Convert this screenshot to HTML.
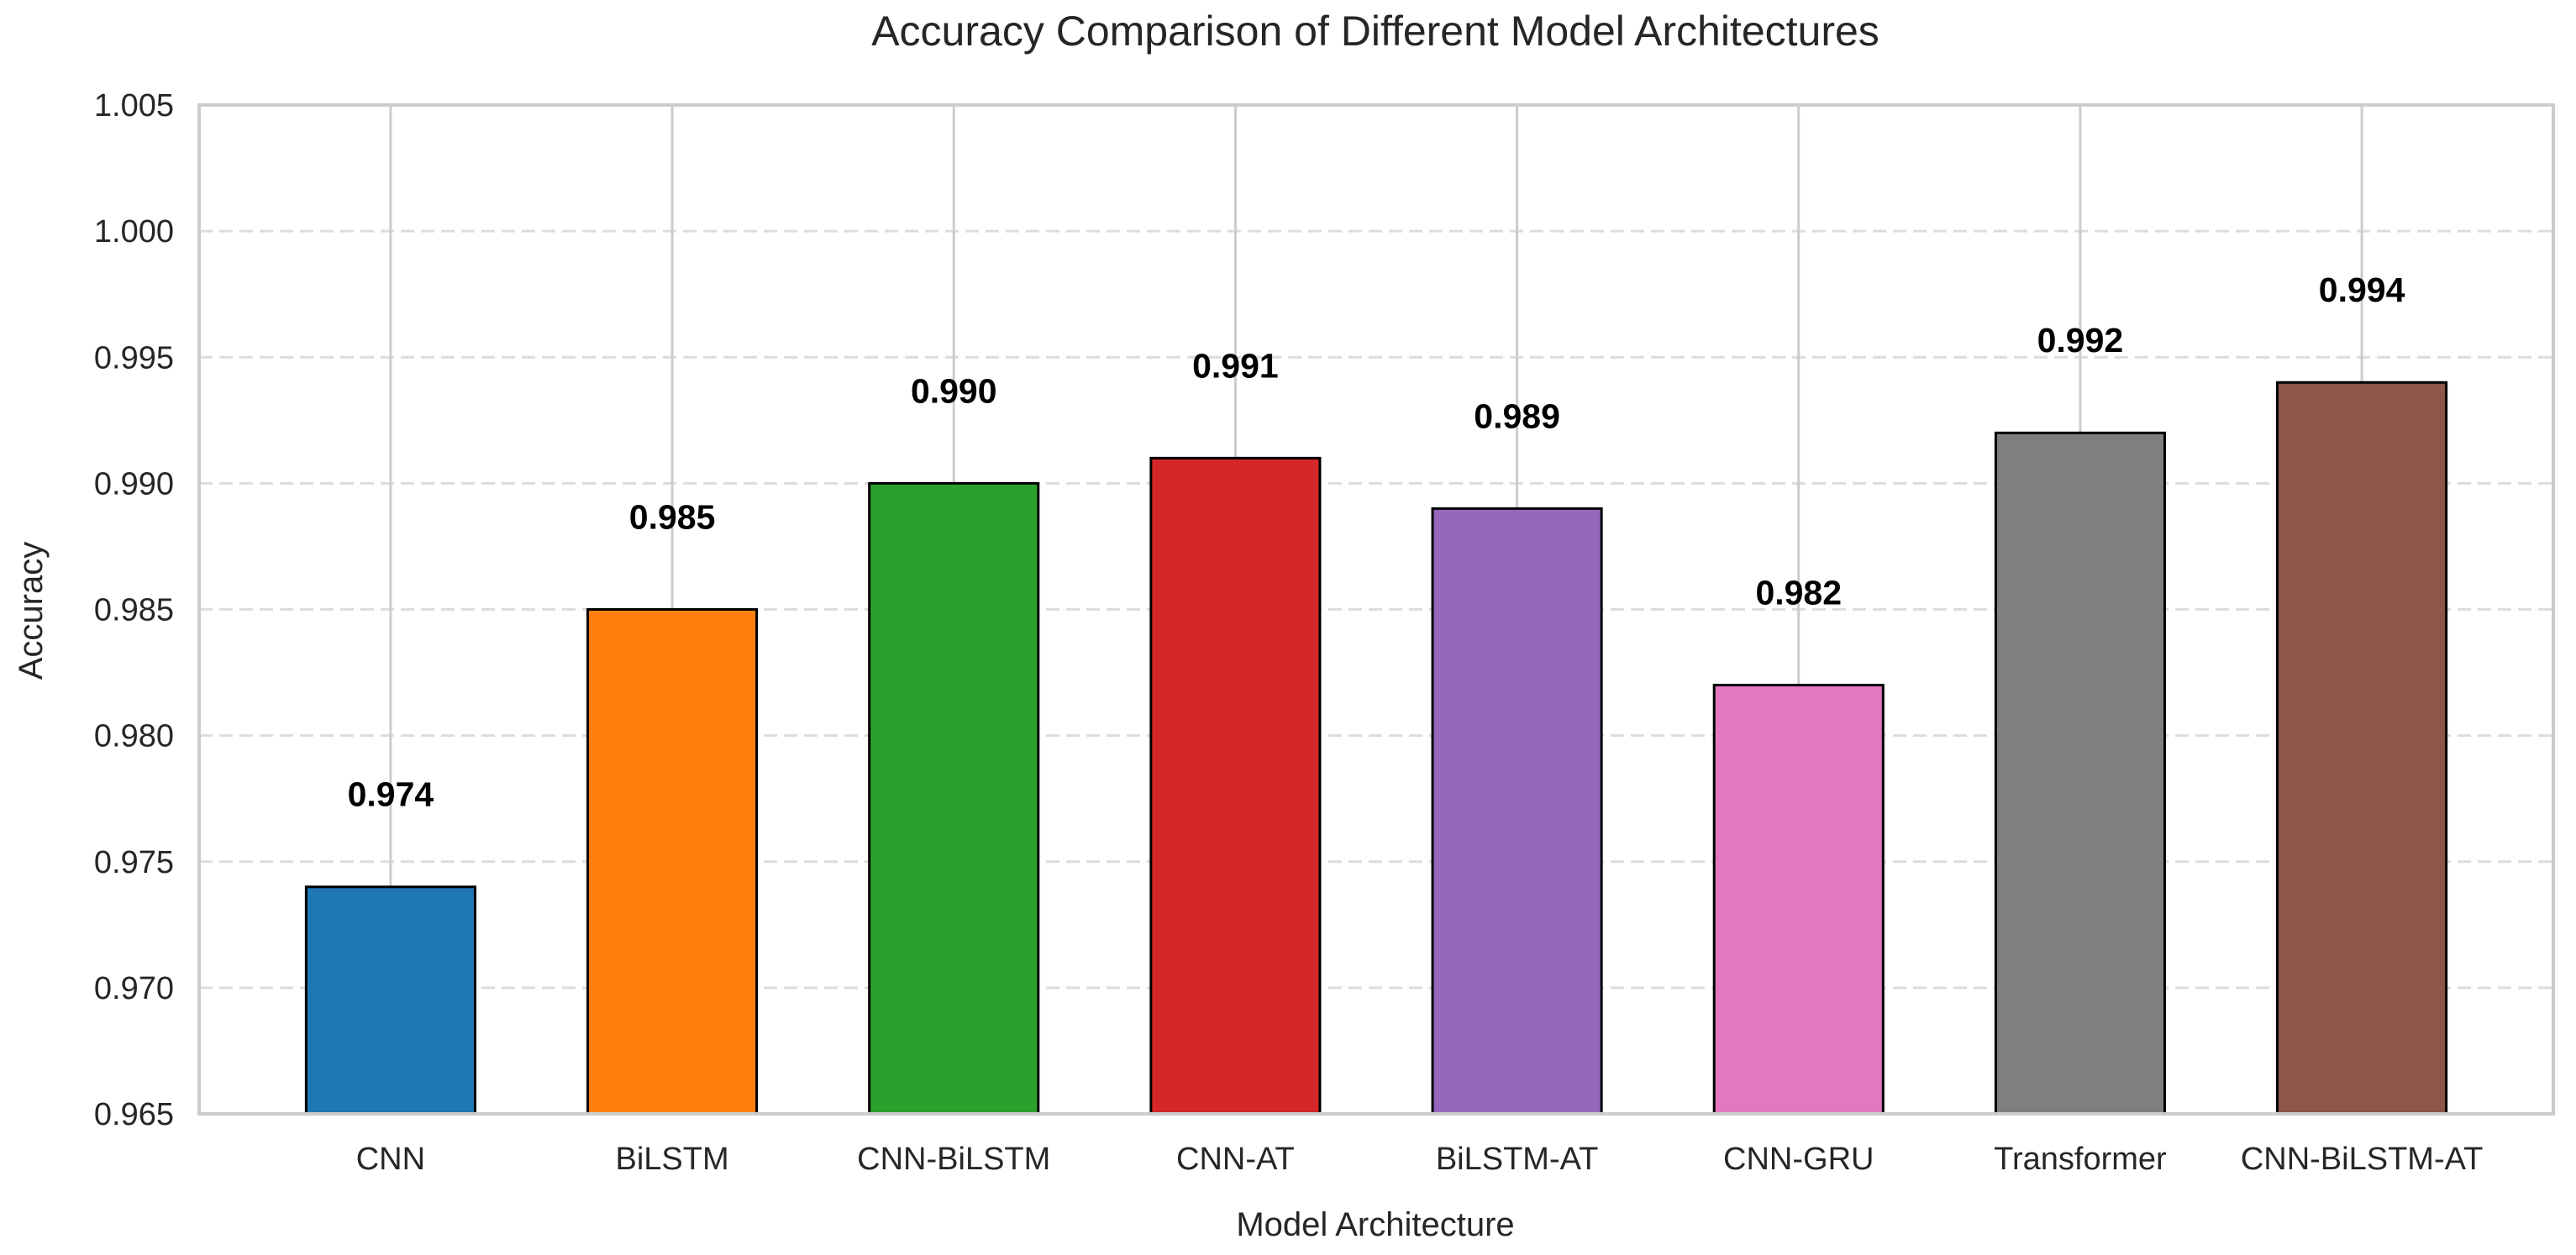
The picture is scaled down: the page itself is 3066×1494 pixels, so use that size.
<!DOCTYPE html>
<html><head><meta charset="utf-8"><style>
body{margin:0;background:#fff}
svg{display:block;font-family:"Liberation Sans",Arial,sans-serif}
</style></head><body>
<svg id="chart" width="3066" height="1494" viewBox="0 0 3066 1494">
<text x="1637" y="54" text-anchor="middle" font-size="50" fill="#262626">Accuracy Comparison of Different Model Architectures</text>
<g id="grid"></g><g id="bars"></g><g id="labels"></g><g id="axes"></g>
<text x="1637" y="1471" text-anchor="middle" font-size="40" fill="#262626">Model Architecture</text>
<text transform="translate(50,727) rotate(-90)" text-anchor="middle" font-size="40" fill="#262626">Accuracy</text>
</svg>
<script>
const categories=["CNN","BiLSTM","CNN-BiLSTM","CNN-AT","BiLSTM-AT","CNN-GRU","Transformer","CNN-BiLSTM-AT"];
const accuracy=[0.974,0.985,0.990,0.991,0.989,0.982,0.992,0.994];
const colors=["#1f77b4","#ff7f0e","#2ca02c","#d62728","#9467bd","#e377c2","#7f7f7f","#8c564b"];
const yTicks=[0.965,0.970,0.975,0.980,0.985,0.990,0.995,1.000,1.005];
const yTickLabels=["0.965","0.970","0.975","0.980","0.985","0.990","0.995","1.000","1.005"];
const L=237,R=3039,T=125,B=1326,yMin=0.965,yMax=1.005,pad=0.68;
const n=categories.length;
const step=(R-L)/(n-1+2*pad);
function xs(i){return L+(i+pad)*step;}
function ys(v){return B-(v-yMin)/(yMax-yMin)*(B-T);}
const NS="http://www.w3.org/2000/svg";
function mk(tag,attrs,parent,text){const e=document.createElementNS(NS,tag);for(const k in attrs)e.setAttribute(k,attrs[k]);if(text!==undefined)e.textContent=text;document.getElementById(parent).appendChild(e);return e;}
yTicks.forEach((t,i)=>{
  if(i>0&&i<yTicks.length-1){const g=mk('line',{x1:L,x2:R,y1:ys(t),y2:ys(t),stroke:'#dcdcdc','stroke-width':3,'stroke-dasharray':'16,8'},'grid');
  
  }
  const tl=mk('text',{x:L-30,y:ys(t)+13,'text-anchor':'end','font-size':38,fill:'#262626'},'axes',yTickLabels[i]);
  
  
});
categories.forEach((c,i)=>{
  const x=xs(i);
  const v=mk('line',{x1:x,x2:x,y1:T,y2:B,stroke:'#cccccc','stroke-width':3},'grid');
  
  
  const w=step*0.6;
  const b=mk('rect',{x:x-w/2,y:ys(accuracy[i]),width:w,height:B-ys(accuracy[i]),fill:colors[i],stroke:'#000','stroke-width':3},'bars');
  
  
  const l=mk('text',{x:x,y:ys(accuracy[i]+0.0037)+15,'text-anchor':'middle','font-size':41,'font-weight':'bold',fill:'#000'},'labels',accuracy[i].toFixed(3));
  
  
  const t=mk('text',{x:x,y:B+66,'text-anchor':'middle','font-size':38,fill:'#262626'},'axes',c);
  
  
});
const f=mk('rect',{x:L,y:T,width:R-L,height:B-T,fill:'none',stroke:'#cccccc','stroke-width':4},'axes');


</script>
</body></html>
